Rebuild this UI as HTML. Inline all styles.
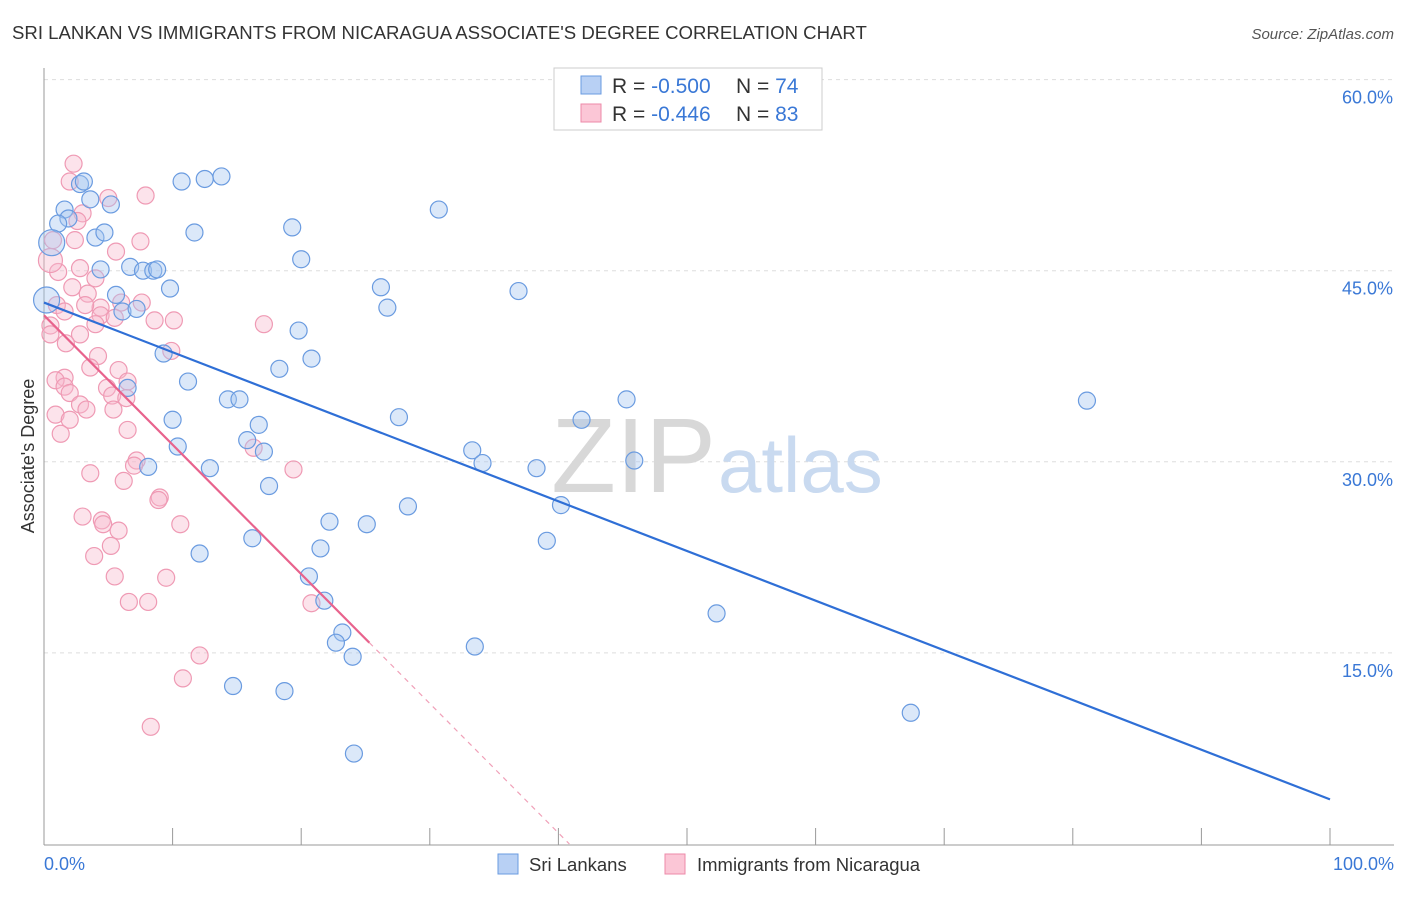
<!DOCTYPE html>
<html><head><meta charset="utf-8"><style>
body{margin:0;background:#fff;font-family:"Liberation Sans",sans-serif;}
svg text{font-family:"Liberation Sans",sans-serif;}
</style></head><body>
<svg id="c" width="1406" height="892" xmlns="http://www.w3.org/2000/svg">
<text x="12" y="39" font-size="18.6" fill="#333">SRI LANKAN VS IMMIGRANTS FROM NICARAGUA ASSOCIATE'S DEGREE CORRELATION CHART</text>
<text x="1394" y="39" font-size="15" fill="#555" font-style="italic" text-anchor="end">Source: ZipAtlas.com</text>
<g id="grid"></g>
<text x="716" y="492" font-size="106" fill="#d8d8d8" text-anchor="end" font-family="Liberation Serif">ZIP</text>
<text x="718" y="492" font-size="78" fill="#c9daf0">atlas</text>
<g id="pts"></g>
<g id="lines"></g>
<text transform="translate(34,456) rotate(-90)" font-size="18" fill="#333" text-anchor="middle">Associate's Degree</text>
<text x="44" y="870" font-size="18" fill="#3a78d6">0.0%</text>
<text x="1394" y="870" font-size="18" fill="#3a78d6" text-anchor="end">100.0%</text>
<g>
<rect x="554" y="68" width="268" height="62" fill="#fff" stroke="#ccc"/>
<rect x="581" y="76" width="20" height="18" fill="#b8d0f4" stroke="#6a9be0"/>
<rect x="581" y="104" width="20" height="18" fill="#fbc6d6" stroke="#ec8aa8"/>
<text x="612" y="93" font-size="21" fill="#333">R = <tspan fill="#3a78d6">-0.500</tspan></text>
<text x="736" y="93" font-size="21" fill="#333">N = <tspan fill="#3a78d6">74</tspan></text>
<text x="612" y="121" font-size="21" fill="#333">R = <tspan fill="#3a78d6">-0.446</tspan></text>
<text x="736" y="121" font-size="21" fill="#333">N = <tspan fill="#3a78d6">83</tspan></text>
</g>
<g>
<rect x="498" y="854" width="20" height="20" fill="#b8d0f4" stroke="#6a9be0"/>
<text x="529" y="871" font-size="18.5" fill="#333">Sri Lankans</text>
<rect x="665" y="854" width="20" height="20" fill="#fbc6d6" stroke="#ec8aa8"/>
<text x="697" y="871" font-size="18.5" fill="#333">Immigrants from Nicaragua</text>
</g>
</svg>
<script>
const yTicks=[15,30,45,60];
const xTickVals=[0,10,20,30,40,50,60,70,80,90,100];
const blueLine=[42.5,3.5];
const pinkLine=[41.5,15.8];
const pinkLineEnd=25.3;
const bluePx=[[80,184],[84,182],[64,210],[68,218],[58,224],[95,237],[105,233],[90,199],[111,205],[182,181],[205,179],[221,177],[195,233],[292,227],[439,209],[130,267],[143,271],[153,271],[157,270],[100,270],[170,289],[116,295],[122,311],[137,309],[381,287],[388,308],[519,291],[301,259],[298,331],[312,358],[164,354],[188,382],[279,369],[127,388],[228,400],[240,400],[173,420],[259,425],[247,440],[264,452],[178,447],[148,467],[210,468],[399,417],[581,420],[626,400],[1087,401],[472,450],[482,463],[537,468],[634,461],[408,506],[561,505],[269,486],[329,522],[367,524],[252,538],[547,541],[320,548],[199,554],[309,576],[324,601],[716,613],[342,633],[336,643],[352,657],[475,647],[233,686],[284,691],[911,713],[354,753]];
const pinkPx=[[74,164],[70,182],[108,198],[145,195],[83,213],[78,221],[53,240],[75,240],[141,242],[116,252],[58,272],[80,268],[95,278],[72,287],[88,293],[57,305],[64,312],[100,308],[85,305],[121,302],[142,302],[101,315],[115,318],[155,320],[174,321],[264,324],[96,324],[50,326],[80,335],[66,343],[171,351],[98,356],[90,368],[118,370],[64,378],[56,380],[65,386],[70,393],[107,388],[128,381],[112,395],[126,398],[80,405],[86,410],[113,410],[55,415],[70,420],[127,430],[61,434],[253,448],[137,460],[134,466],[294,469],[90,473],[124,481],[160,498],[158,500],[83,517],[102,521],[103,524],[180,524],[119,530],[111,546],[94,556],[115,576],[166,578],[129,602],[148,602],[311,603],[199,655],[183,678],[151,727],[50,335]];
const blueX=bluePx.map(p=>+((p[0]-44)/12.86).toFixed(1));
const blueY=bluePx.map(p=>+((844-p[1])/12.74).toFixed(1));
const pinkX=pinkPx.map(p=>+((p[0]-44)/12.86).toFixed(1));
const pinkY=pinkPx.map(p=>+((844-p[1])/12.74).toFixed(1));
const bigBlueX=[0.6,0.2],bigBlueY=[47.2,42.7];
const bigPinkX=[0.5],bigPinkY=[45.8];

const NS="http://www.w3.org/2000/svg";
const X=v=>44+v*12.86, Y=v=>844-v*12.74;
function mk(t,a,p){const e=document.createElementNS(NS,t);for(const k in a)e.setAttribute(k,a[k]);p.appendChild(e);return e;}
const g=document.getElementById('grid');
yTicks.forEach(t=>{
 const l=mk('line',{x1:44,x2:1394,y1:Y(t),y2:Y(t),stroke:'#ddd','stroke-dasharray':'4,4'},g);
 
 
 const tx=mk('text',{x:1393,y:Y(t)+24,'font-size':18,fill:'#3a78d6','text-anchor':'end'},g);
 tx.textContent=t.toFixed(1)+'%';
 
 
});
const ax=mk('line',{x1:44,x2:44,y1:68,y2:845,stroke:'#999'},g);


const bx=mk('line',{x1:44,x2:1394,y1:845,y2:845,stroke:'#999'},g);


xTickVals.forEach(t=>{
 const l=mk('line',{x1:X(t),x2:X(t),y1:828,y2:845,stroke:'#999'},g);
 
 
});
const P=document.getElementById('pts');
function dot(x,y,r,blue){
 const c=mk('circle',{cx:X(x),cy:Y(y),r:r,fill:blue?'rgba(165,198,240,0.4)':'rgba(248,185,205,0.4)',stroke:blue?'#6a9be0':'#ef9ab4','stroke-width':1.2},P);
 
 
}
pinkX.forEach((x,i)=>dot(x,pinkY[i],8.5,false));
bigPinkX.forEach((x,i)=>dot(x,bigPinkY[i],12,false));
blueX.forEach((x,i)=>dot(x,blueY[i],8.5,true));
bigBlueX.forEach((x,i)=>dot(x,bigBlueY[i],13,true));
const L=document.getElementById('lines');
const bl=mk('line',{x1:X(0),y1:Y(blueLine[0]),x2:X(100),y2:Y(blueLine[1]),stroke:'#2f6fd6','stroke-width':2.2},L);


const pl=mk('line',{x1:X(0),y1:Y(pinkLine[0]),x2:X(pinkLineEnd),y2:Y(pinkLine[1]),stroke:'#e8638d','stroke-width':2.2},L);


const slope=(pinkLine[1]-pinkLine[0])/pinkLineEnd;
const xe=-pinkLine[0]/slope;
const pd=mk('line',{x1:X(pinkLineEnd),y1:Y(pinkLine[1]),x2:X(xe),y2:Y(0),stroke:'#f0a0b8','stroke-width':1.2,'stroke-dasharray':'5,5'},L);


</script>
</body></html>
